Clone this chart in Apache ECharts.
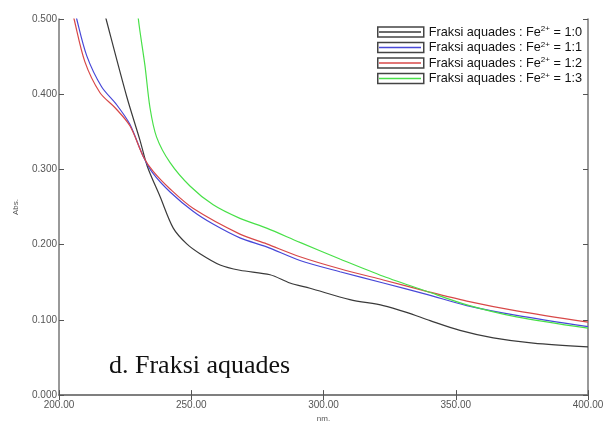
<!DOCTYPE html>
<html>
<head>
<meta charset="utf-8">
<script src="https://cdn.jsdelivr.net/npm/echarts@6/dist/echarts.min.js"></script>
<style>html,body{margin:0;padding:0;background:#fff}#c{width:607px;height:428px}</style>
</head>
<body>
<div id="c"></div>
<script>
// Series names (legend)
const seriesNames = [
  'Fraksi aquades : Fe2+ = 1:0',
  'Fraksi aquades : Fe2+ = 1:1',
  'Fraksi aquades : Fe2+ = 1:2',
  'Fraksi aquades : Fe2+ = 1:3'
];
const seriesColors = ['#3a3a3a', '#4848d8', '#d84848', '#48e048'];

// Wavelength (nm) and absorbance readings per series
const nm10  = [216.0, 217.8, 225.6, 230.6, 233.4, 238.2, 243.2, 248.3, 253.3, 260.9, 268.4, 279.8, 287.3, 294.9, 310.0, 322.6, 331.4, 340.3, 351.6, 364.2, 379.3, 400.0];
const abs10 = [0.525, 0.500, 0.397, 0.339, 0.304, 0.264, 0.222, 0.201, 0.188, 0.173, 0.166, 0.160, 0.149, 0.142, 0.127, 0.119, 0.110, 0.099, 0.086, 0.076, 0.069, 0.064];

const nm11  = [205.5, 206.7, 210.5, 216.1, 221.8, 226.8, 231.9, 235.7, 242.0, 250.8, 258.4, 268.4, 278.5, 291.1, 306.2, 322.6, 339.0, 354.2, 373.0, 400.0];
const abs11 = [0.520, 0.500, 0.451, 0.410, 0.386, 0.360, 0.317, 0.294, 0.270, 0.244, 0.227, 0.209, 0.197, 0.179, 0.164, 0.149, 0.134, 0.119, 0.106, 0.091];

const nm12  = [204.5, 205.7, 209.8, 215.5, 221.2, 226.8, 231.9, 235.7, 242.0, 250.8, 268.4, 278.5, 291.1, 306.2, 322.6, 339.0, 354.2, 373.0, 400.0];
const abs12 = [0.520, 0.500, 0.443, 0.402, 0.382, 0.358, 0.317, 0.297, 0.274, 0.248, 0.214, 0.201, 0.184, 0.168, 0.153, 0.138, 0.125, 0.112, 0.097];

const nm13  = [229.5, 230.0, 232.5, 234.4, 236.9, 242.0, 249.5, 258.3, 268.4, 278.5, 291.1, 306.2, 322.6, 339.0, 354.2, 373.0, 400.0];
const abs13 = [0.530, 0.500, 0.438, 0.382, 0.343, 0.309, 0.278, 0.253, 0.235, 0.222, 0.203, 0.181, 0.158, 0.138, 0.120, 0.104, 0.089];

// Axis ticks
const xTicks = { min: 200, max: 400, interval: 50 };
const yTicks = { min: 0, max: 0.5, interval: 0.1 };

const seriesX = [nm10, nm11, nm12, nm13];
const seriesY = [abs10, abs11, abs12, abs13];

const legendFmt = name => name.replace('Fe2+', 'Fe{sup|2+}');
const legendText = (color) => ({
  fontFamily: 'Liberation Sans, Arial, sans-serif',
  fontSize: 12.7,
  color: color,
  lineHeight: 14,
  rich: { sup: { fontSize: 8, verticalAlign: 'top', lineHeight: 14, color: color, fontFamily: 'Liberation Sans, Arial, sans-serif' } }
});

const axisLine = { show: true, lineStyle: { color: '#777', width: 1.5 } };
const tickIn = { show: true, inside: true, length: 5, lineStyle: { color: '#555', width: 1 } };

const chart = echarts.init(document.getElementById('c'), null, { renderer: 'canvas' });
chart.setOption({
  backgroundColor: '#fff',
  animation: false,
  grid: { left: 59, right: 19, top: 19, bottom: 23 },
  title: {
    text: 'd. Fraksi aquades',
    left: 104, top: 347,
    textStyle: { fontFamily: 'Liberation Serif, Times New Roman, serif', fontSize: 26, lineHeight: 28, fontWeight: 'normal', color: '#111' }
  },
  legend: [
    {
      data: seriesNames, orient: 'vertical', left: 377, top: 25, padding: 0, itemGap: 1.5,
      icon: 'rect', itemWidth: 46, itemHeight: 10,
      itemStyle: { color: '#fff', borderColor: '#444', borderWidth: 1.5 },
      selectedMode: false, formatter: legendFmt, textStyle: legendText('#111')
    },
    {
      data: seriesNames, orient: 'vertical', left: 379, top: 25, padding: 0, itemGap: 1.5,
      icon: 'path://M0,0L280,0L280,10L0,10Z', itemWidth: 42, itemHeight: 1.5,
      selectedMode: false, formatter: legendFmt, textStyle: legendText('rgba(0,0,0,0)')
    }
  ],
  xAxis: [
    {
      type: 'value', min: xTicks.min, max: xTicks.max, interval: xTicks.interval,
      name: 'nm.', nameLocation: 'middle', nameGap: 18,
      nameTextStyle: { fontSize: 8, color: '#555', fontFamily: 'Liberation Sans, Arial, sans-serif' },
      axisLine: axisLine, axisTick: tickIn, splitLine: { show: false },
      axisLabel: { fontSize: 10, color: '#555', margin: 5, fontFamily: 'Liberation Sans, Arial, sans-serif', formatter: v => v.toFixed(2) }
    },
    {
      type: 'value', position: 'top', min: xTicks.min, max: xTicks.max, interval: xTicks.interval,
      axisLine: axisLine, axisTick: tickIn, axisLabel: { show: false }, splitLine: { show: false }
    }
  ],
  yAxis: [
    {
      type: 'value', min: yTicks.min, max: yTicks.max, interval: yTicks.interval,
      name: 'Abs.', nameLocation: 'middle', nameGap: 39, nameRotate: 90,
      nameTextStyle: { fontSize: 8, color: '#555', fontFamily: 'Liberation Sans, Arial, sans-serif' },
      axisLine: axisLine, axisTick: tickIn, splitLine: { show: false },
      axisLabel: { fontSize: 10, color: '#555', margin: 2, fontFamily: 'Liberation Sans, Arial, sans-serif', formatter: v => v.toFixed(3) }
    },
    {
      type: 'value', position: 'right', min: yTicks.min, max: yTicks.max, interval: yTicks.interval,
      axisLine: axisLine, axisTick: tickIn, axisLabel: { show: false }, splitLine: { show: false }
    }
  ],
  series: seriesNames.map((name, i) => ({
    name: name, type: 'line', xAxisIndex: 0, yAxisIndex: 0,
    data: seriesX[i].map((x, j) => [x, seriesY[i][j]]),
    showSymbol: false, symbol: 'none', smooth: 0.3, clip: true,
    color: seriesColors[i], lineStyle: { color: seriesColors[i], width: 1.2 }
  }))
});
</script>
</body>
</html>
